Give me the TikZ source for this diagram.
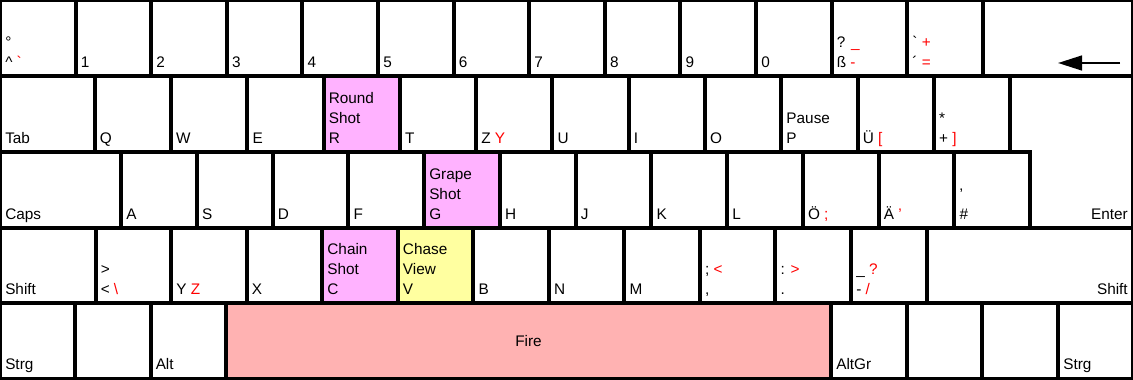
\documentclass[tikz,border=0pt]{standalone}
\usepackage{fontspec}
\setmainfont{Liberation Sans}
\usetikzlibrary{arrows.meta}

\definecolor{shotpink}{RGB}{255,178,255}
\definecolor{viewyellow}{RGB}{255,255,160}
\definecolor{firered}{RGB}{255,178,178}
\newcommand{\agr}[1]{\textcolor{red}{#1}}

\begin{document}
\begin{tikzpicture}[x=0.75pt, y=0.75pt,
    key/.style={draw=black, line width=3pt, fill=white},
    lbl/.style={anchor=south west, inner sep=0pt, text depth=0pt, align=left, font=\fontsize{11.5}{15}\selectfont},
    rlbl/.style={lbl, anchor=south east, align=right}]

    \useasboundingbox (0,0) rectangle (1133,379);

    % Number row
    \foreach \t [count=\i from 0] in {{°\\\textasciicircum{} \agr{\textasciigrave}}, 1, 2, 3, 4, 5, 6, 7, 8, 9, 0, {? \agr{\_}\\ß \agr{-}}, {\textasciigrave{} \agr{+}\\´ \agr{=}}}
    {
        \draw[key] (\i*75.6, 302.5) rectangle ++(75.6, 76.5);
        \node[lbl] (r1-\i) at (\i*75.6+5, 311.5) {\t};
    }
    \draw[key] (982.8, 302.5) rectangle (1133, 379);
    \coordinate (bs-start) at (1120, 316);
    \coordinate (bs-end) at (1058, 316);
    \draw[line width=1.8pt, -{Triangle[length=18pt, width=11pt]}] (bs-start) -- (bs-end);

    % Enter key (spans two rows)
    \draw[key] (1010.1, 302.5) -- (1133, 302.5) -- (1133, 150.5) -- (1030, 150.5) -- (1030, 226.5) -- (1010.1, 226.5) -- cycle;
    \node[rlbl] (enter) at (1128, 159.5) {Enter};

    % Upper letter row
    \draw[key] (0, 226.5) rectangle (94.7, 302.5);
    \node[lbl] (tab) at (5, 235.5) {Tab};
    \foreach \t/\c [count=\j from 0] in {Q/white, W/white, E/white, {Round\\Shot\\R}/shotpink, T/white, {Z \agr{Y}}/white, U/white, I/white, O/white, {Pause\\P}/white, {Ü \agr{[}}/white, {*\\+ \agr{]}}/white}
    {
        \draw[key, fill=\c] (94.7+\j*76.28, 226.5) rectangle ++(76.28, 76);
        \node[lbl] (r2-\j) at (99.7+\j*76.28, 235.5) {\t};
    }

    % Home row
    \draw[key] (0, 150.5) rectangle (121, 226.5);
    \node[lbl] (caps) at (5, 159.5) {Caps};
    \foreach \t/\c [count=\j from 0] in {A/white, S/white, D/white, F/white, {Grape\\Shot\\G}/shotpink, H/white, J/white, K/white, L/white, {Ö \agr{;}}/white, {Ä \agr{'}}/white, {'\\\#}/white}
    {
        \draw[key, fill=\c] (121+\j*75.75, 150.5) rectangle ++(75.75, 76);
        \node[lbl] (r3-\j) at (126+\j*75.75, 159.5) {\t};
    }

    % Lower letter row
    \draw[key] (0, 75.5) rectangle (95.5, 150.5);
    \node[lbl] (lshift) at (5, 84.5) {Shift};
    \foreach \t/\c [count=\j from 0] in {{>\\< \agr{\textbackslash}}/white, {Y \agr{Z}}/white, X/white, {Chain\\Shot\\C}/shotpink, {Chase\\View\\V}/viewyellow, B/white, N/white, M/white, {; \agr{<}\\,}/white, {: \agr{>}\\.}/white, {\_ \agr{?}\\- \agr{/}}/white}
    {
        \draw[key, fill=\c] (95.5+\j*75.55, 75.5) rectangle ++(75.55, 75);
        \node[lbl] (r4-\j) at (100.5+\j*75.55, 84.5) {\t};
    }
    \draw[key] (926.5, 75.5) rectangle (1133, 150.5);
    \node[rlbl] (rshift) at (1128, 84.5) {Shift};

    % Bottom row
    \draw[key] (0, 0) rectangle (75, 75.5);
    \draw[key] (75, 0) rectangle (150.5, 75.5);
    \draw[key] (150.5, 0) rectangle (226, 75.5);
    \draw[key, fill=firered] (226, 0) rectangle (831, 75.5);
    \draw[key] (831, 0) rectangle (907, 75.5);
    \draw[key] (907, 0) rectangle (982, 75.5);
    \draw[key] (982, 0) rectangle (1058, 75.5);
    \draw[key] (1058, 0) rectangle (1133, 75.5);
    \node[lbl] (lstrg) at (5, 9) {Strg};
    \node[lbl] (alt) at (155.5, 9) {Alt};
    \node[lbl, anchor=center] (fire) at (528.5, 37.75) {Fire};
    \node[lbl] (altgr) at (836, 9) {AltGr};
    \node[lbl] (rstrg) at (1063, 9) {Strg};

\end{tikzpicture}
\end{document}
